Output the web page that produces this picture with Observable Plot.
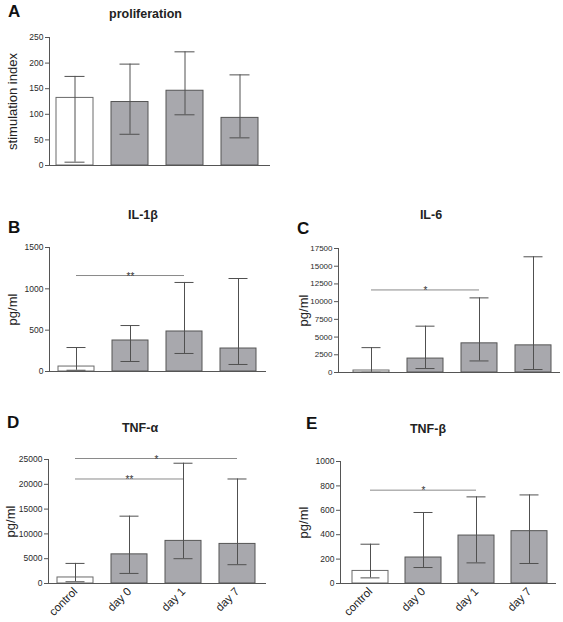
<!DOCTYPE html>
<html>
<head>
<meta charset="utf-8">
<script src="https://cdn.jsdelivr.net/npm/d3@7"></script>
<script src="https://cdn.jsdelivr.net/npm/@observablehq/plot@0.6"></script>
<style>
  html, body { margin: 0; padding: 0; background: #fff; }
  #root { position: relative; width: 563px; height: 622px; font-family: "Liberation Sans", Arial, sans-serif; overflow: hidden; }
  .panel { position: absolute; }
  .letter { position: absolute; font-weight: bold; font-size: 17px; line-height: 17px; color: #111; }
  .title { position: absolute; font-weight: bold; font-size: 12.5px; line-height: 12.5px; color: #222; transform: translateX(-50%); white-space: nowrap; }
</style>
</head>
<body>
<div id="root"></div>
<script>
const categories = ["control", "day 0", "day 1", "day 7"];

const profMean = [132, 124, 146, 93];
const profLo   = [6.5, 61, 99, 54];
const profHi   = [174, 198, 222, 177];
const profTicks = [0, 50, 100, 150, 200, 250];

const il1bMean = [60, 375, 484, 278];
const il1bLo   = [15, 121, 218, 85];
const il1bHi   = [290, 556, 1077, 1125];
const il1bTicks = [0, 500, 1000, 1500];

const il6Mean = [280, 1965, 4115, 3830];
const il6Lo   = [30, 560, 1630, 420];
const il6Hi   = [3510, 6540, 10530, 16330];
const il6Ticks = [0, 2500, 5000, 7500, 10000, 12500, 15000, 17500];

const tnfaMean = [1215, 5875, 8590, 7980];
const tnfaLo   = [350, 2030, 5000, 3790];
const tnfaHi   = [4050, 13575, 24250, 21070];
const tnfaTicks = [0, 5000, 10000, 15000, 20000, 25000];

const tnfbMean = [103, 213, 393, 429];
const tnfbLo   = [46, 131, 169, 164];
const tnfbHi   = [322, 582, 710, 726];
const tnfbTicks = [0, 200, 400, 600, 800, 1000];

// significance brackets: from, to, y, label
const il1bSig = [{from: "control", to: "day 1", y: 1161, label: "**", mid: "day 0"}];
const il6Sig  = [{from: "control", to: "day 1", y: 11650, label: "*", mid: "day 0"}];
const tnfaSig = [
  {from: "control", to: "day 1", y: 21070, label: "**", mid: "day 0"},
  {from: "control", to: "day 7", y: 25200, label: "*", mid: "day 0", half: true}
];
const tnfbSig = [{from: "control", to: "day 1", y: 765, label: "*", mid: "day 0"}];

const letters = [
  {t: "A", x: 8, y: 2.5},
  {t: "B", x: 8, y: 218.5},
  {t: "C", x: 297, y: 219.5},
  {t: "D", x: 7, y: 413.5},
  {t: "E", x: 306, y: 414.5}
];
const titles = [
  {t: "proliferation", x: 145.5, y: 7.5},
  {t: "IL-1\u03B2", x: 143, y: 208.5},
  {t: "IL-6", x: 431, y: 208.5},
  {t: "TNF-\u03B1", x: 140, y: 421.5},
  {t: "TNF-\u03B2", x: 428, y: 422.5}
];

const root = document.getElementById("root");

function makeData(mean, lo, hi) {
  return categories.map((c, i) => ({cat: c, mean: mean[i], lo: lo[i], hi: hi[i]}));
}

function panel(cfg) {
  const data = makeData(cfg.mean, cfg.lo, cfg.hi);
  const sig = cfg.sig || [];
  const marks = [
    Plot.barY(data, {
      x: "cat", y: "mean",
      fill: d => d.cat === "control" ? "#ffffff" : "#a8a8ad",
      stroke: d => d.cat === "control" ? "#6a6a6a" : "#555555",
      strokeWidth: 1
    }),
    Plot.ruleX(data, {x: "cat", y1: "lo", y2: "hi", stroke: "#505050", strokeWidth: 1}),
    Plot.tickY(data, {x: "cat", y: "hi", stroke: "#505050", strokeWidth: 1, insetLeft: 8.5, insetRight: 8.5}),
    Plot.tickY(data, {x: "cat", y: "lo", stroke: "#505050", strokeWidth: 1, insetLeft: 8.5, insetRight: 8.5}),
    Plot.frame({anchor: "left", stroke: "#555"}),
    Plot.frame({anchor: "bottom", stroke: "#555"}),
    Plot.axisY({ticks: cfg.ticks, tickSize: 4, tickPadding: 2, tickFormat: d3.format("d"), label: null, stroke: "#555", fill: "#2a2a2a", fontSize: cfg.tickFont || 8.5}),
    Plot.text([cfg.ylabel], {frameAnchor: "left", textAnchor: "middle", lineAnchor: "middle", dx: cfg.labelDx, rotate: -90, fontSize: 13, fill: "#222"}),
    Plot.ruleY(sig, {y: "y", x1: "from", x2: "to", stroke: "#8a8a8a", strokeWidth: 1, insetLeft: 18, insetRight: 18}),
    Plot.text(sig.filter(d => !d.half), {x: "mid", y: "y", text: "label", fontSize: 10, fill: "#333", lineAnchor: "middle", dy: 1}),
    Plot.text(sig.filter(d => d.half), {x: "mid", y: "y", text: "label", fontSize: 10, fill: "#333", lineAnchor: "middle", dy: 1, dx: 27})
  ];
  if (cfg.showX) {
    marks.push(Plot.axisX({tickSize: 0, tickPadding: 6, tickRotate: -45, label: null, fontSize: 11.5, fill: "#222"}));
  }
  const svg = Plot.plot({
    width: cfg.width,
    height: cfg.height,
    marginLeft: cfg.ml, marginRight: cfg.mr, marginTop: cfg.mt, marginBottom: cfg.mb,
    style: {fontFamily: "'Liberation Sans', Arial, sans-serif", fontSize: "8.5px", color: "#333", background: "transparent", overflow: "visible"},
    x: {domain: categories, paddingInner: 0.33, paddingOuter: cfg.po, align: cfg.align, axis: cfg.showX ? undefined : null},
    y: {domain: cfg.domain},
    marks
  });
  const wrap = document.createElement("div");
  wrap.className = "panel";
  wrap.style.left = cfg.left + "px";
  wrap.style.top = cfg.top + "px";
  wrap.appendChild(svg);
  root.appendChild(wrap);
}

panel({mean: profMean, lo: profLo, hi: profHi, ticks: profTicks, domain: [0, 250], ylabel: "stimulation index",
  left: 0, top: 0, width: 280, height: 185, ml: 49, mr: 11, mt: 37, mb: 20, po: 0.14, align: 0.4, labelDx: -37});

panel({mean: il1bMean, lo: il1bLo, hi: il1bHi, ticks: il1bTicks, domain: [0, 1500], ylabel: "pg/ml", sig: il1bSig,
  left: 0, top: 190, width: 280, height: 190, ml: 49, mr: 15, mt: 57, mb: 9, po: 0.16, align: 0.5, labelDx: -37});

panel({mean: il6Mean, lo: il6Lo, hi: il6Hi, ticks: il6Ticks, domain: [0, 17500], ylabel: "pg/ml", sig: il6Sig, tickFont: 8,
  left: 280, top: 190, width: 283, height: 190, ml: 58, mr: 4, mt: 58, mb: 8, po: 0.2, align: 0.64, labelDx: -35});

panel({mean: tnfaMean, lo: tnfaLo, hi: tnfaHi, ticks: tnfaTicks, domain: [0, 25000], ylabel: "pg/ml", sig: tnfaSig, showX: true,
  left: 0, top: 400, width: 280, height: 222, ml: 48, mr: 15, mt: 59, mb: 39, po: 0.16, align: 0.5, labelDx: -38});

panel({mean: tnfbMean, lo: tnfbLo, hi: tnfbHi, ticks: tnfbTicks, domain: [0, 1000], ylabel: "pg/ml", sig: tnfbSig, showX: true,
  left: 280, top: 400, width: 283, height: 222, ml: 60, mr: 8, mt: 61, mb: 39, po: 0.18, align: 0.58, labelDx: -37});

for (const l of letters) {
  const d = document.createElement("div");
  d.className = "letter";
  d.textContent = l.t;
  d.style.left = l.x + "px";
  d.style.top = l.y + "px";
  root.appendChild(d);
}
for (const t of titles) {
  const d = document.createElement("div");
  d.className = "title";
  d.textContent = t.t;
  d.style.left = t.x + "px";
  d.style.top = t.y + "px";
  root.appendChild(d);
}
</script>
</body>
</html>
